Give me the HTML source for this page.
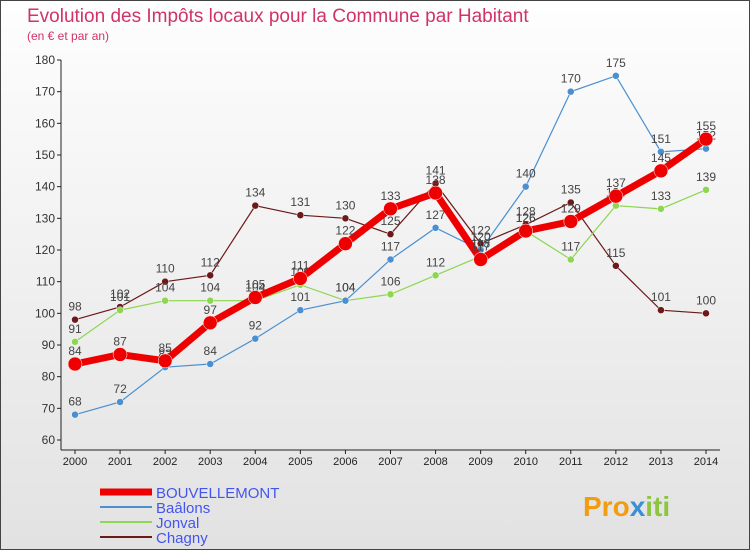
<!DOCTYPE html>
<html><head><meta charset="utf-8"><style>
body{margin:0;background:#fff}
svg text{font-family:"Liberation Sans",sans-serif}
</style></head><body>
<svg width="750" height="550" xmlns="http://www.w3.org/2000/svg">
<defs><linearGradient id="bg" x1="0" y1="0" x2="0" y2="1"><stop offset="0" stop-color="#fefefe"/><stop offset="1" stop-color="#e2e2e2"/></linearGradient></defs>
<rect x="0.5" y="0.5" width="749" height="549" fill="url(#bg)" stroke="#444"/>
<text x="27" y="22" font-size="19" fill="#d0336a">Evolution des Impôts locaux pour la Commune par Habitant</text>
<text x="27" y="40" font-size="12" fill="#d0336a">(en € et par an)</text>
<g id="axes"></g>
<g id="series"></g>
<g id="legend"></g>
<text x="583" y="516" font-size="28" font-weight="bold" fill="#f39c12">Pro<tspan fill="#3a8fd8">x</tspan><tspan fill="#8cc63f">iti</tspan></text>
</svg>
<script>
const years=[2000,2001,2002,2003,2004,2005,2006,2007,2008,2009,2010,2011,2012,2013,2014];
const yTicks=[60,70,80,90,100,110,120,130,140,150,160,170,180];
const bouvellemont=[84,87,85,97,105,111,122,133,138,117,126,129,137,145,155];
const baalons=[68,72,83,84,92,101,104,117,127,120,140,170,175,151,152];
const jonval=[91,101,104,104,104,109,104,106,112,118,126,117,134,133,139];
const chagny=[98,102,110,112,134,131,130,125,141,122,128,135,115,101,100];
const NS="http://www.w3.org/2000/svg";
const xs=y=>75+(y-2000)*(706-75)/14;
const ys=v=>440-(v-60)*(380/120);
function mk(t,a,p){const e=document.createElementNS(NS,t);for(const k in a)e.setAttribute(k,a[k]);p.appendChild(e);return e;}
const ax=document.getElementById('axes');
const yl=mk('line',{x1:61,y1:60,x2:61,y2:450,stroke:'#222'},ax);


const xl=mk('line',{x1:61,y1:450,x2:720,y2:450,stroke:'#222'},ax);


yTicks.forEach(v=>{
 mk('line',{x1:57,y1:ys(v),x2:61,y2:ys(v),stroke:'#222'},ax);
 const t=mk('text',{x:55,y:ys(v)+4,'font-size':12,fill:'#333','text-anchor':'end'},ax);t.textContent=v;
 
 
});
years.forEach(y=>{
 mk('line',{x1:xs(y),y1:450,x2:xs(y),y2:454,stroke:'#222'},ax);
 const t=mk('text',{x:xs(y),y:465,'font-size':11,fill:'#222','text-anchor':'middle'},ax);t.textContent=y;
 
 
});
const S=[
 {n:'Chagny',d:chagny,c:'#6b1a1a',w:1.2,r:3.5},
 {n:'Jonval',d:jonval,c:'#8cd650',w:1.2,r:3.5},
 {n:'Baâlons',d:baalons,c:'#4a90d0',w:1.2,r:3.5},
 {n:'BOUVELLEMONT',d:bouvellemont,c:'#ee0000',w:7,r:7}];
const sg=document.getElementById('series');
S.forEach(s=>{
 const g=mk('g',{},sg);
 
 
 mk('polyline',{points:s.d.map((v,i)=>xs(years[i])+','+ys(v)).join(' '),fill:'none',stroke:s.c,'stroke-width':s.w},g);
 s.d.forEach((v,i)=>{
  const c=mk('circle',{cx:xs(years[i]),cy:ys(v),r:s.r,fill:s.c,stroke:'#fff','stroke-width':0.5},g);
  
  
  const t=mk('text',{x:xs(years[i]),y:ys(v)-9,'font-size':12,fill:'#444','text-anchor':'middle'},g);t.textContent=v;
  
  
 });
});
const lg=document.getElementById('legend');
[S[3],S[2],S[1],S[0]].forEach((s,i)=>{
 const y=492+i*15;
 const g=mk('g',{},lg);
 
 
 mk('line',{x1:100,y1:y,x2:152,y2:y,stroke:s.c,'stroke-width':i==0?7:2},g);
 const t=mk('text',{x:156,y:y+6,'font-size':15,fill:'#4455ee'},g);t.textContent=s.n;
});
</script>
</body></html>
